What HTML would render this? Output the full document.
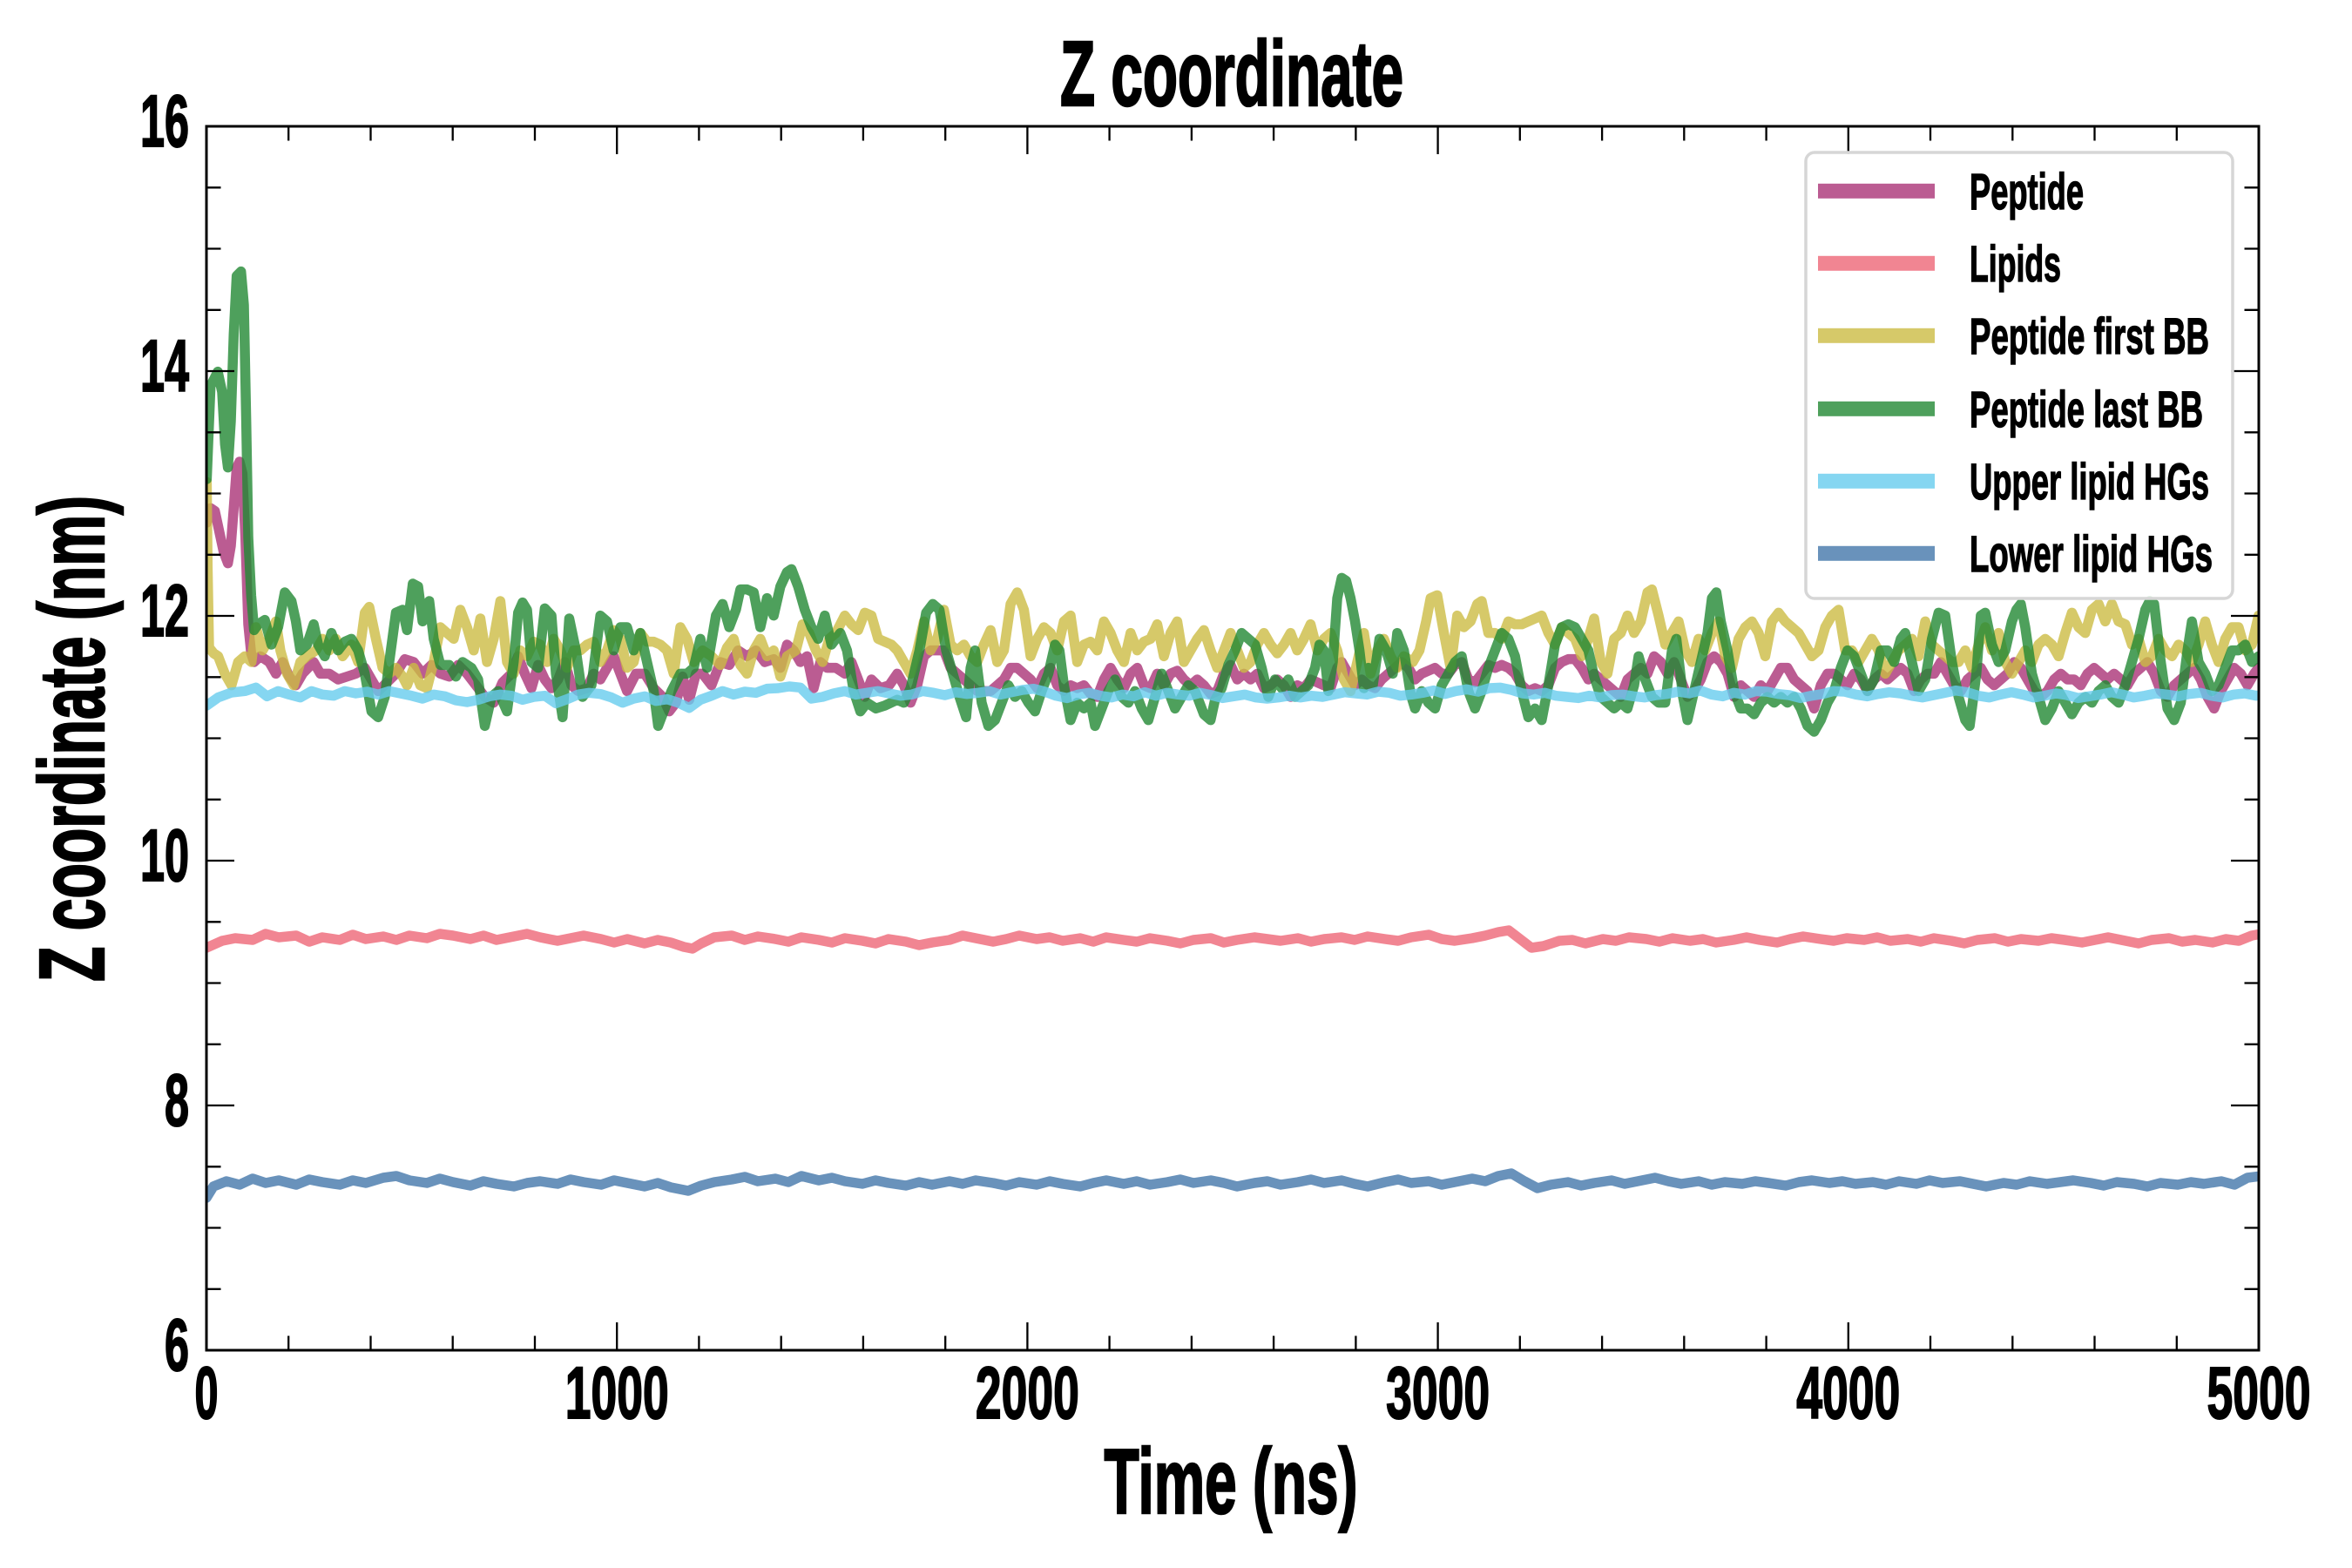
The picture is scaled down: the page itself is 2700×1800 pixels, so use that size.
<!DOCTYPE html>
<html>
<head>
<meta charset="utf-8">
<style>
html,body{margin:0;padding:0;background:#fff;}
svg{display:block;}
text{font-family:"Liberation Sans","DejaVu Sans",sans-serif;font-weight:bold;fill:#000;}
</style>
</head>
<body>
<svg width="2700" height="1800" viewBox="0 0 2700 1800" xmlns="http://www.w3.org/2000/svg">
<rect x="0" y="0" width="2700" height="1800" fill="#fff"/>
<defs>
<clipPath id="ax" clipPathUnits="userSpaceOnUse"><rect x="237" y="145" width="2356" height="1405"/></clipPath>
</defs>

<g clip-path="url(#ax)">
<g transform="translate(230,560) scale(0.510204,0.333333)" fill="none" stroke-linejoin="round" stroke-linecap="round" stroke-opacity="0.8">
<!-- Peptide -->
<path vector-effect="non-scaling-stroke" stroke="#AA3377" stroke-width="11.5" d="M14.4,120 L22.9,70 L32.7,80 L42.5,150 L52.3,220 L62,260 L68.6,200 L75.1,70 L81.7,-70 L88.2,-90 L94.7,-50 L101.3,170 L107.8,470 L114.3,570 L120.9,600 L135,580 L155,600 L170,640 L185,600 L200,650 L215,680 L230,640 L255,600 L270,640 L290,640 L310,660 L330,650 L350,640 L370,620 L385,660 L400,700 L420,670 L440,640 L460,590 L480,600 L500,640 L520,610 L540,640 L560,650 L580,610 L600,640 L620,680 L640,720 L660,740 L680,670 L700,640 L715,580 L730,640 L745,690 L760,610 L775,660 L790,690 L805,660 L820,600 L835,680 L850,700 L870,690 L885,640 L900,660 L915,620 L930,580 L945,640 L960,700 L980,640 L1000,640 L1020,690 L1040,720 L1055,770 L1070,740 L1085,650 L1100,730 L1115,640 L1130,640 L1150,680 L1170,600 L1190,610 L1210,560 L1230,580 L1250,560 L1270,600 L1290,590 L1305,620 L1320,540 L1335,560 L1350,600 L1365,580 L1380,690 L1395,600 L1410,620 L1430,620 L1450,640 L1465,600 L1480,660 L1495,720 L1510,660 L1530,690 L1550,680 L1568,640 L1583,680 L1598,740 L1613,680 L1628,580 L1643,560 L1658,560 L1673,560 L1688,620 L1703,640 L1718,660 L1733,680 L1748,700 L1763,700 L1778,700 L1793,680 L1808,660 L1823,620 L1838,620 L1853,640 L1868,660 L1883,690 L1898,640 L1913,620 L1928,680 L1943,700 L1958,680 L1973,690 L1988,680 L2003,710 L2018,720 L2033,660 L2048,620 L2063,660 L2078,690 L2093,640 L2108,620 L2123,680 L2138,690 L2153,640 L2168,680 L2183,640 L2198,630 L2213,660 L2228,680 L2243,660 L2258,680 L2273,710 L2288,700 L2303,640 L2318,610 L2333,660 L2348,640 L2363,660 L2378,640 L2393,690 L2408,680 L2423,660 L2438,680 L2453,720 L2468,680 L2483,690 L2498,660 L2513,670 L2528,680 L2543,690 L2558,620 L2568,600 L2583,640 L2598,680 L2613,660 L2628,680 L2643,690 L2658,660 L2673,640 L2688,620 L2703,600 L2718,620 L2733,660 L2748,640 L2763,630 L2778,620 L2793,640 L2808,640 L2823,610 L2838,600 L2853,660 L2868,670 L2883,640 L2898,610 L2913,620 L2928,610 L2943,620 L2958,640 L2973,680 L2988,700 L3003,690 L3018,700 L3033,680 L3048,620 L3063,600 L3078,590 L3093,590 L3108,620 L3123,660 L3136,640 L3151,660 L3166,680 L3181,700 L3196,720 L3211,660 L3226,640 L3241,620 L3256,640 L3271,580 L3286,600 L3301,640 L3316,600 L3331,660 L3346,720 L3361,700 L3376,660 L3391,600 L3406,580 L3421,600 L3436,640 L3451,720 L3466,680 L3481,700 L3496,720 L3511,680 L3526,700 L3541,660 L3556,620 L3571,620 L3586,660 L3601,680 L3616,700 L3631,760 L3646,680 L3661,640 L3676,640 L3691,660 L3706,680 L3721,640 L3736,660 L3751,700 L3766,660 L3781,640 L3796,660 L3811,640 L3826,620 L3841,640 L3856,700 L3871,660 L3886,640 L3901,640 L3916,600 L3931,640 L3946,680 L3961,700 L3976,660 L3991,640 L4006,620 L4021,660 L4036,680 L4051,660 L4066,640 L4081,600 L4096,620 L4111,660 L4126,700 L4141,720 L4156,700 L4171,660 L4186,640 L4201,660 L4216,660 L4231,680 L4246,640 L4261,620 L4276,640 L4291,660 L4306,640 L4321,660 L4336,680 L4351,640 L4366,620 L4381,600 L4396,640 L4411,700 L4426,720 L4441,680 L4456,660 L4471,640 L4486,620 L4501,660 L4516,720 L4531,760 L4546,700 L4561,660 L4576,620 L4591,640 L4606,680 L4621,640 L4631,620 L4646,620"/>
<!-- Peptide first BB -->
<path vector-effect="non-scaling-stroke" stroke="#CCBB44" stroke-width="11.5" d="M14.4,-20 L16.3,270 L19.6,550 L30,570 L40,580 L55,640 L70,680 L85,600 L100,580 L115,600 L125,480 L140,560 L155,520 L170,460 L180,560 L195,640 L210,680 L225,600 L240,580 L260,560 L275,520 L290,560 L305,520 L320,580 L340,540 L355,600 L370,430 L380,410 L395,520 L410,620 L425,640 L440,620 L455,650 L465,680 L480,620 L495,680 L510,690 L525,600 L540,480 L555,500 L570,520 L585,420 L600,480 L615,560 L630,450 L645,600 L660,520 L675,390 L690,600 L705,640 L720,560 L735,580 L750,530 L765,540 L780,600 L795,520 L810,560 L825,620 L840,560 L855,560 L870,540 L885,530 L900,600 L915,560 L930,490 L945,520 L960,620 L975,600 L990,500 L1005,530 L1020,530 L1035,540 L1050,560 L1065,640 L1080,480 L1095,520 L1110,600 L1130,560 L1150,580 L1170,610 L1185,550 L1200,520 L1215,610 L1230,640 L1245,560 L1260,520 L1275,580 L1290,560 L1305,650 L1320,580 L1340,560 L1355,470 L1370,500 L1385,560 L1400,600 L1415,520 L1430,500 L1450,440 L1465,470 L1480,490 L1495,430 L1510,440 L1525,520 L1540,530 L1555,540 L1568,560 L1583,600 L1598,640 L1613,560 L1628,460 L1643,560 L1658,520 L1673,420 L1688,540 L1703,560 L1718,540 L1733,580 L1748,600 L1763,540 L1778,490 L1793,600 L1808,560 L1823,400 L1838,360 L1853,420 L1868,580 L1883,520 L1898,480 L1913,500 L1928,560 L1943,460 L1958,440 L1973,600 L1988,540 L2003,530 L2018,560 L2033,460 L2048,500 L2063,560 L2078,600 L2093,500 L2108,560 L2123,530 L2138,520 L2153,470 L2168,580 L2183,500 L2198,460 L2213,600 L2228,560 L2243,520 L2258,490 L2273,560 L2288,620 L2303,560 L2318,500 L2333,560 L2348,620 L2363,600 L2378,540 L2393,500 L2408,540 L2423,570 L2438,540 L2453,500 L2468,560 L2483,520 L2498,470 L2513,560 L2528,520 L2543,500 L2558,560 L2573,660 L2588,700 L2603,600 L2618,500 L2633,640 L2648,560 L2663,520 L2678,580 L2693,620 L2708,580 L2728,600 L2743,560 L2758,460 L2768,380 L2783,370 L2798,500 L2813,620 L2828,440 L2843,480 L2858,460 L2873,400 L2883,390 L2898,500 L2913,500 L2928,520 L2943,460 L2958,470 L2973,470 L2988,460 L3003,450 L3018,440 L3033,500 L3048,540 L3063,480 L3078,500 L3093,520 L3108,580 L3123,520 L3136,450 L3151,600 L3166,640 L3181,520 L3196,500 L3211,440 L3226,500 L3241,460 L3256,360 L3266,350 L3281,440 L3296,540 L3311,500 L3326,460 L3341,560 L3356,600 L3371,520 L3386,560 L3401,500 L3416,460 L3431,580 L3446,620 L3461,520 L3476,480 L3491,460 L3506,500 L3521,580 L3536,460 L3551,430 L3566,460 L3581,480 L3596,500 L3611,540 L3626,580 L3641,560 L3656,480 L3671,440 L3686,420 L3701,560 L3716,560 L3731,600 L3746,560 L3761,520 L3776,560 L3791,640 L3806,600 L3821,560 L3836,540 L3851,520 L3866,580 L3881,460 L3896,540 L3911,560 L3926,580 L3941,600 L3956,600 L3971,560 L3986,620 L4001,540 L4016,480 L4031,560 L4046,500 L4061,600 L4076,640 L4091,600 L4106,560 L4121,600 L4136,540 L4151,520 L4166,540 L4181,580 L4196,500 L4211,430 L4226,480 L4241,500 L4256,420 L4271,400 L4286,460 L4301,400 L4316,460 L4331,470 L4346,540 L4361,520 L4376,600 L4391,580 L4406,520 L4421,560 L4436,580 L4451,540 L4466,560 L4481,600 L4496,540 L4511,460 L4526,540 L4541,600 L4556,520 L4571,480 L4586,480 L4601,560 L4616,540 L4631,440 L4646,440"/>
<!-- Peptide last BB -->
<path vector-effect="non-scaling-stroke" stroke="#228833" stroke-width="11.5" d="M14.4,-30 L22.9,-350 L39.2,-400 L49,-330 L55.5,-150 L62,-70 L68.6,-230 L75.1,-530 L81.7,-730 L91.5,-745 L98,-630 L103.2,-230 L107.8,170 L114.3,370 L120.9,490 L130,470 L145,455 L160,540 L175,480 L190,360 L205,390 L215,460 L225,560 L240,540 L255,470 L265,540 L280,580 L295,500 L310,560 L325,530 L340,520 L355,560 L370,640 L385,770 L400,790 L415,720 L425,600 L440,430 L455,420 L465,490 L478,330 L490,340 L500,460 L515,390 L525,520 L540,610 L560,610 L575,650 L590,600 L610,620 L625,660 L640,820 L655,720 L670,700 L690,770 L705,600 L715,430 L725,395 L735,420 L745,600 L760,620 L775,415 L790,440 L800,640 L815,790 L830,450 L845,560 L860,720 L880,680 L900,440 L915,460 L930,560 L945,480 L960,480 L975,560 L990,500 L1005,600 L1020,700 L1030,820 L1045,760 L1060,700 L1080,640 L1095,640 L1110,620 L1125,520 L1140,620 L1160,440 L1175,400 L1190,480 L1205,420 L1215,350 L1230,350 L1245,360 L1260,480 L1275,380 L1290,440 L1305,340 L1320,290 L1330,280 L1345,340 L1360,420 L1375,480 L1390,520 L1405,440 L1420,540 L1440,500 L1455,560 L1470,700 L1485,770 L1500,740 L1520,760 L1540,750 L1568,730 L1583,740 L1598,690 L1618,560 L1633,430 L1648,400 L1663,420 L1678,560 L1693,640 L1708,720 L1723,790 L1733,620 L1743,560 L1758,740 L1773,820 L1788,800 L1803,740 L1818,680 L1833,720 L1848,700 L1863,740 L1878,770 L1893,700 L1908,640 L1923,540 L1933,560 L1943,680 L1958,800 L1973,740 L1988,760 L2003,740 L2013,820 L2028,760 L2043,700 L2058,660 L2073,720 L2088,740 L2103,700 L2118,760 L2133,800 L2148,720 L2163,640 L2178,700 L2193,760 L2208,720 L2223,680 L2238,700 L2258,780 L2273,800 L2283,730 L2298,690 L2313,610 L2328,560 L2343,500 L2358,520 L2373,540 L2388,620 L2403,720 L2418,660 L2433,690 L2448,660 L2463,720 L2478,700 L2493,680 L2508,620 L2518,540 L2528,560 L2538,700 L2548,600 L2558,380 L2568,310 L2578,320 L2588,380 L2598,460 L2608,560 L2618,690 L2628,620 L2638,680 L2653,520 L2668,560 L2683,640 L2693,500 L2708,560 L2723,710 L2733,760 L2748,700 L2763,740 L2778,760 L2793,680 L2808,640 L2823,600 L2838,580 L2853,700 L2868,760 L2883,700 L2898,620 L2913,560 L2928,500 L2943,520 L2958,580 L2973,700 L2988,790 L3003,760 L3018,800 L3033,680 L3048,540 L3063,480 L3078,470 L3093,480 L3108,520 L3123,560 L3136,650 L3151,720 L3166,740 L3181,760 L3196,740 L3211,760 L3226,680 L3236,580 L3251,660 L3266,720 L3281,740 L3296,740 L3311,560 L3321,520 L3336,720 L3346,800 L3361,700 L3376,600 L3391,500 L3401,380 L3411,360 L3421,460 L3436,560 L3451,700 L3466,760 L3481,760 L3496,780 L3511,740 L3526,720 L3541,740 L3556,720 L3571,740 L3586,720 L3601,760 L3616,820 L3631,840 L3646,800 L3661,740 L3676,700 L3691,620 L3706,560 L3721,580 L3736,640 L3751,700 L3766,660 L3781,560 L3796,560 L3811,600 L3826,520 L3836,500 L3851,600 L3866,700 L3881,660 L3896,520 L3911,430 L3926,440 L3941,600 L3956,720 L3971,800 L3981,820 L3996,640 L4006,440 L4016,430 L4031,540 L4046,600 L4061,560 L4076,460 L4086,420 L4096,400 L4106,480 L4121,640 L4136,720 L4151,800 L4166,760 L4181,700 L4196,740 L4211,780 L4226,740 L4241,720 L4256,740 L4271,700 L4286,680 L4301,720 L4316,740 L4331,680 L4346,600 L4361,520 L4376,420 L4386,390 L4396,400 L4411,600 L4426,760 L4441,800 L4456,740 L4471,560 L4481,460 L4496,600 L4511,640 L4526,700 L4541,680 L4556,620 L4571,560 L4586,560 L4601,540 L4616,600 L4631,580 L4646,600"/>
<!-- Upper lipid HGs -->
<path vector-effect="non-scaling-stroke" stroke="#66CCEE" stroke-width="11.5" d="M14,750 L40,722 L70,705 L100,700 L125,688 L150,718 L175,700 L200,712 L225,722 L250,700 L275,712 L300,716 L325,700 L350,708 L375,702 L400,712 L425,700 L450,708 L475,716 L500,726 L525,712 L550,718 L575,732 L600,738 L625,730 L650,718 L675,712 L700,716 L725,730 L750,720 L775,716 L800,742 L825,728 L850,712 L875,706 L900,710 L925,722 L950,740 L975,726 L1000,718 L1025,734 L1050,728 L1075,740 L1100,758 L1125,730 L1150,716 L1175,700 L1200,712 L1225,702 L1250,706 L1275,692 L1300,690 L1325,684 L1350,688 L1375,726 L1400,720 L1425,708 L1450,700 L1475,712 L1500,706 L1525,700 L1550,708 L1575,716 L1600,712 L1625,700 L1650,706 L1675,714 L1700,704 L1725,710 L1750,706 L1775,700 L1800,712 L1825,704 L1850,696 L1875,692 L1900,702 L1925,716 L1950,724 L1975,712 L2000,706 L2025,716 L2050,722 L2075,712 L2100,718 L2125,704 L2150,716 L2175,706 L2200,712 L2225,716 L2250,706 L2275,714 L2300,724 L2325,718 L2350,712 L2375,722 L2400,726 L2425,722 L2450,716 L2475,722 L2500,716 L2525,720 L2550,712 L2575,704 L2600,708 L2625,712 L2650,702 L2675,706 L2700,716 L2725,712 L2750,706 L2775,698 L2800,710 L2825,700 L2850,694 L2875,702 L2900,690 L2925,688 L2950,696 L2975,708 L3000,712 L3025,706 L3050,716 L3075,720 L3100,724 L3125,716 L3150,722 L3175,714 L3200,712 L3225,718 L3250,722 L3275,714 L3300,710 L3325,702 L3350,708 L3375,698 L3400,712 L3425,718 L3450,706 L3475,712 L3500,700 L3525,702 L3550,710 L3575,714 L3600,724 L3625,716 L3650,710 L3675,700 L3700,702 L3725,712 L3750,718 L3775,710 L3800,704 L3825,708 L3850,716 L3875,722 L3900,714 L3925,706 L3950,698 L3975,704 L4000,716 L4025,722 L4050,712 L4075,704 L4100,712 L4125,722 L4150,716 L4175,708 L4200,714 L4225,724 L4250,718 L4275,712 L4300,704 L4325,712 L4350,722 L4375,716 L4400,708 L4425,712 L4450,718 L4475,710 L4500,706 L4525,716 L4550,722 L4575,712 L4600,708 L4625,716 L4650,712"/>
</g>
<g fill="none" stroke-linejoin="round" stroke-linecap="round" stroke-opacity="0.8" stroke-width="11.5">
<!-- Lipids -->
<path stroke="#EE6677" d="M237,1088 L255,1080 L270,1077 L290,1079 L305,1072 L320,1076 L340,1074 L355,1081 L370,1076 L390,1079 L405,1073 L420,1078 L440,1075 L455,1079 L470,1074 L490,1077 L505,1072 L520,1074 L540,1078 L555,1074 L570,1079 L590,1075 L605,1072 L620,1076 L640,1080 L655,1077 L670,1074 L690,1078 L705,1082 L720,1078 L740,1083 L755,1079 L770,1082 L785,1087 L795,1089 L805,1083 L820,1076 L840,1074 L855,1079 L870,1075 L890,1078 L905,1081 L920,1076 L940,1079 L955,1082 L970,1077 L990,1080 L1005,1083 L1020,1078 L1040,1081 L1055,1085 L1070,1082 L1090,1079 L1105,1074 L1120,1077 L1140,1081 L1155,1078 L1170,1074 L1190,1078 L1205,1076 L1220,1080 L1240,1077 L1255,1081 L1270,1076 L1290,1079 L1305,1081 L1320,1077 L1340,1080 L1355,1083 L1370,1079 L1390,1077 L1405,1082 L1420,1079 L1440,1076 L1455,1078 L1470,1080 L1490,1077 L1505,1081 L1520,1078 L1540,1076 L1555,1079 L1570,1075 L1590,1078 L1605,1080 L1620,1076 L1640,1073 L1655,1078 L1670,1080 L1690,1077 L1705,1074 L1720,1070 L1732,1068 L1745,1078 L1758,1088 L1772,1086 L1790,1080 L1805,1079 L1820,1083 L1840,1078 L1855,1080 L1870,1076 L1890,1078 L1905,1081 L1920,1077 L1940,1080 L1955,1078 L1970,1082 L1990,1079 L2005,1076 L2020,1079 L2040,1082 L2055,1078 L2070,1075 L2090,1078 L2105,1080 L2120,1077 L2140,1079 L2155,1076 L2170,1080 L2190,1078 L2205,1081 L2220,1077 L2240,1080 L2255,1083 L2270,1079 L2290,1077 L2305,1081 L2320,1078 L2340,1080 L2355,1077 L2370,1079 L2390,1082 L2405,1079 L2420,1076 L2440,1080 L2455,1083 L2470,1079 L2490,1077 L2505,1081 L2520,1079 L2540,1082 L2555,1078 L2570,1080 L2585,1074 L2596,1072"/>
<!-- Lower lipid HGs -->
<path stroke="#4477AA" d="M237,1375 L245,1362 L260,1356 L275,1360 L290,1353 L305,1358 L320,1355 L340,1360 L355,1354 L370,1357 L390,1360 L405,1355 L420,1358 L440,1352 L455,1350 L470,1355 L490,1358 L505,1353 L520,1357 L540,1361 L555,1356 L570,1359 L590,1362 L605,1358 L620,1356 L640,1359 L655,1354 L670,1357 L690,1360 L705,1355 L720,1358 L740,1362 L755,1358 L770,1363 L790,1367 L805,1361 L820,1357 L840,1354 L855,1351 L870,1356 L890,1353 L905,1357 L920,1350 L940,1355 L955,1352 L970,1356 L990,1359 L1005,1355 L1020,1358 L1040,1361 L1055,1357 L1070,1360 L1090,1356 L1105,1359 L1120,1355 L1140,1358 L1155,1361 L1170,1357 L1190,1360 L1205,1356 L1220,1359 L1240,1362 L1255,1358 L1270,1355 L1290,1359 L1305,1356 L1320,1360 L1340,1357 L1355,1354 L1370,1358 L1390,1355 L1405,1358 L1420,1362 L1440,1358 L1455,1356 L1470,1360 L1490,1357 L1505,1354 L1520,1358 L1540,1355 L1555,1359 L1570,1362 L1590,1357 L1605,1354 L1620,1358 L1640,1356 L1655,1360 L1670,1357 L1690,1353 L1705,1356 L1720,1350 L1735,1347 L1750,1356 L1765,1364 L1780,1360 L1800,1357 L1815,1361 L1830,1358 L1850,1355 L1865,1359 L1880,1356 L1900,1352 L1915,1356 L1930,1359 L1950,1356 L1965,1360 L1980,1357 L2000,1359 L2015,1356 L2030,1358 L2050,1361 L2065,1357 L2080,1355 L2100,1358 L2115,1356 L2130,1359 L2150,1357 L2165,1360 L2180,1356 L2200,1359 L2215,1355 L2230,1358 L2250,1356 L2265,1359 L2280,1362 L2300,1358 L2315,1360 L2330,1356 L2350,1359 L2365,1357 L2380,1355 L2400,1358 L2415,1361 L2430,1357 L2450,1359 L2465,1362 L2480,1358 L2500,1360 L2515,1357 L2530,1359 L2550,1356 L2565,1360 L2580,1352 L2596,1350"/>
</g>
</g>

<!-- Axes frame -->
<rect x="237" y="145" width="2356" height="1405" fill="none" stroke="#000" stroke-width="3"/>
<!-- Ticks -->
<path fill="none" stroke="#000" stroke-width="2.3" d="
M331.2,1550V1533.5 M425.5,1550V1533.5 M519.7,1550V1533.5 M614,1550V1533.5 M802.4,1550V1533.5 M896.7,1550V1533.5 M990.9,1550V1533.5 M1085.2,1550V1533.5 M1273.6,1550V1533.5 M1367.9,1550V1533.5 M1462.1,1550V1533.5 M1556.4,1550V1533.5 M1744.8,1550V1533.5 M1839.1,1550V1533.5 M1933.3,1550V1533.5 M2027.6,1550V1533.5 M2216,1550V1533.5 M2310.3,1550V1533.5 M2404.5,1550V1533.5 M2498.8,1550V1533.5
M331.2,145V161.5 M425.5,145V161.5 M519.7,145V161.5 M614,145V161.5 M802.4,145V161.5 M896.7,145V161.5 M990.9,145V161.5 M1085.2,145V161.5 M1273.6,145V161.5 M1367.9,145V161.5 M1462.1,145V161.5 M1556.4,145V161.5 M1744.8,145V161.5 M1839.1,145V161.5 M1933.3,145V161.5 M2027.6,145V161.5 M2216,145V161.5 M2310.3,145V161.5 M2404.5,145V161.5 M2498.8,145V161.5
M237,1550V1518 M708.2,1550V1518 M1179.4,1550V1518 M1650.6,1550V1518 M2121.8,1550V1518 M2593,1550V1518
M237,145V177 M708.2,145V177 M1179.4,145V177 M1650.6,145V177 M2121.8,145V177 M2593,145V177
M237,1479.8H253.5 M237,1409.5H253.5 M237,1339.3H253.5 M237,1198.8H253.5 M237,1128.5H253.5 M237,1058.3H253.5 M237,917.8H253.5 M237,847.5H253.5 M237,777.3H253.5 M237,636.8H253.5 M237,566.5H253.5 M237,496.3H253.5 M237,355.8H253.5 M237,285.5H253.5 M237,215.3H253.5
M2593,1479.8H2576.5 M2593,1409.5H2576.5 M2593,1339.3H2576.5 M2593,1198.8H2576.5 M2593,1128.5H2576.5 M2593,1058.3H2576.5 M2593,917.8H2576.5 M2593,847.5H2576.5 M2593,777.3H2576.5 M2593,636.8H2576.5 M2593,566.5H2576.5 M2593,496.3H2576.5 M2593,355.8H2576.5 M2593,285.5H2576.5 M2593,215.3H2576.5
M237,1550H269 M237,1269H269 M237,988H269 M237,707H269 M237,426H269 M237,145H269
M2593,1550H2561 M2593,1269H2561 M2593,988H2561 M2593,707H2561 M2593,426H2561 M2593,145H2561
"/>

<!-- Y tick labels -->
<g font-size="84" text-anchor="end" stroke="#000" stroke-width="2">
<text x="217" y="1573" textLength="28" lengthAdjust="spacingAndGlyphs">6</text>
<text x="217" y="1292" textLength="28" lengthAdjust="spacingAndGlyphs">8</text>
<text x="217" y="1011" textLength="56" lengthAdjust="spacingAndGlyphs">10</text>
<text x="217" y="730" textLength="56" lengthAdjust="spacingAndGlyphs">12</text>
<text x="217" y="449" textLength="56" lengthAdjust="spacingAndGlyphs">14</text>
<text x="217" y="168" textLength="56" lengthAdjust="spacingAndGlyphs">16</text>
</g>
<!-- X tick labels -->
<g font-size="84" text-anchor="middle" stroke="#000" stroke-width="2">
<text x="237" y="1628" textLength="27" lengthAdjust="spacingAndGlyphs">0</text>
<text x="708.2" y="1628" textLength="119" lengthAdjust="spacingAndGlyphs">1000</text>
<text x="1179.4" y="1628" textLength="119" lengthAdjust="spacingAndGlyphs">2000</text>
<text x="1650.6" y="1628" textLength="119" lengthAdjust="spacingAndGlyphs">3000</text>
<text x="2121.8" y="1628" textLength="119" lengthAdjust="spacingAndGlyphs">4000</text>
<text x="2593" y="1628" textLength="119" lengthAdjust="spacingAndGlyphs">5000</text>
</g>

<!-- Title & axis labels -->
<text x="1414" y="121" font-size="106" text-anchor="middle" stroke="#000" stroke-width="2.5" textLength="394" lengthAdjust="spacingAndGlyphs">Z coordinate</text>
<text x="1413" y="1737" font-size="106" text-anchor="middle" stroke="#000" stroke-width="2.5" textLength="291" lengthAdjust="spacingAndGlyphs">Time (ns)</text>
<text transform="translate(119,848) rotate(-90)" x="0" y="0" font-size="106" text-anchor="middle" stroke="#000" stroke-width="2.5" textLength="558" lengthAdjust="spacingAndGlyphs">Z coordinate (nm)</text>

<!-- Legend -->
<rect x="2073" y="175" width="490" height="512" rx="10" ry="10" fill="#fff" fill-opacity="0.8" stroke="#d6d6d6" stroke-width="3.5"/>
<g fill-opacity="0.8">
<rect x="2087" y="210.8" width="134" height="17" fill="#AA3377"/>
<rect x="2087" y="293.8" width="134" height="17" fill="#EE6677"/>
<rect x="2087" y="376.8" width="134" height="17" fill="#CCBB44"/>
<rect x="2087" y="460.8" width="134" height="17" fill="#228833"/>
<rect x="2087" y="543.8" width="134" height="17" fill="#66CCEE"/>
<rect x="2087" y="626.8" width="134" height="17" fill="#4477AA"/>
</g>
<g font-size="58.6" stroke="#000" stroke-width="1.4">
<text x="2261" y="239.8" textLength="131" lengthAdjust="spacingAndGlyphs">Peptide</text>
<text x="2261" y="322.8" textLength="105" lengthAdjust="spacingAndGlyphs">Lipids</text>
<text x="2261" y="405.8" textLength="275" lengthAdjust="spacingAndGlyphs">Peptide first BB</text>
<text x="2261" y="489.8" textLength="268" lengthAdjust="spacingAndGlyphs">Peptide last BB</text>
<text x="2261" y="572.8" textLength="275" lengthAdjust="spacingAndGlyphs">Upper lipid HGs</text>
<text x="2261" y="655.8" textLength="279" lengthAdjust="spacingAndGlyphs">Lower lipid HGs</text>
</g>
</svg>
</body>
</html>
